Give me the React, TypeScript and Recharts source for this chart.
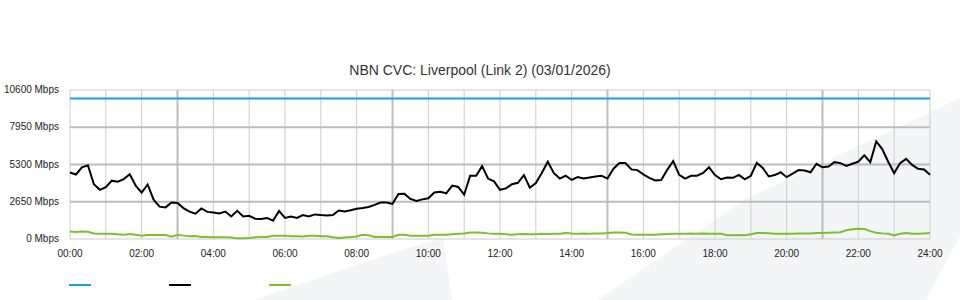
import { LineChart, Line, XAxis, YAxis, CartesianGrid } from 'recharts'

// 10-minute samples, 00:00 .. 24:00
const minutes = Array.from({ length: 145 }, (_, i) => i * 10)

const capacity = 10000

const download = [
  4730, 4590, 5100, 5250, 3900, 3500, 3690, 4150, 4080, 4260, 4600, 3800,
  3300, 3880, 2800, 2300, 2250, 2600, 2560, 2200, 1950, 1800, 2170, 1930,
  1890, 1820, 1950, 1600, 2000, 1605, 1655, 1440, 1430, 1500, 1300, 2000,
  1500, 1600, 1500, 1700, 1600, 1750, 1700, 1680, 1700, 2030, 1950, 2050,
  2150, 2200, 2280, 2430, 2600, 2600, 2500, 3200, 3210, 2850, 2700, 2820,
  2900, 3310, 3360, 3250, 3800, 3700, 3150, 4500, 4494, 5180, 4300, 4100,
  3500, 3600, 3900, 4000, 4550, 3650, 3976, 4700, 5500, 4700, 4300, 4500,
  4200, 4400, 4300, 4380, 4440, 4500, 4300, 5000, 5400, 5400, 4950, 4900,
  4600, 4350, 4160, 4200, 4920, 5550, 4565, 4300, 4494, 4500, 4700, 5100,
  4550, 4250, 4370, 4350, 4565, 4250, 4500, 5420, 5060, 4450, 4550, 4750,
  4400, 4650, 4900, 4870, 4750, 5350, 5100, 5150, 5467, 5400, 5200, 5350,
  5500, 5950, 5460, 6950, 6400, 5500, 4686, 5400, 5700, 5275, 5000, 4950,
  4565,
]

const upload = [
  540, 500, 540, 520, 390, 380, 370, 380, 330, 300, 350, 300,
  240, 280, 290, 290, 280, 170, 300, 240, 200, 220, 140, 140,
  120, 130, 120, 110, 45, 60, 70, 130, 140, 140, 230, 230,
  230, 200, 190, 185, 230, 230, 190, 200, 120, 70, 110, 140,
  180, 300, 260, 150, 140, 140, 150, 300, 300, 240, 234, 234,
  234, 300, 310, 310, 340, 370, 390, 460, 470, 440, 400, 380,
  370, 330, 310, 330, 350, 330, 330, 370, 350, 380, 380, 420,
  390, 380, 390, 380, 400, 390, 420, 470, 460, 440, 320, 300,
  305, 300, 305, 330, 360, 380, 380, 380, 385, 380, 385, 376,
  376, 370, 270, 260, 280, 270, 330, 420, 420, 410, 380, 376,
  376, 380, 390, 390, 400, 425, 430, 450, 470, 480, 620, 690,
  730, 720, 560, 440, 400, 376, 260, 380, 420, 380, 380, 400,
  425,
]

const yTicks = [0, 2650, 5300, 7950, 10600]
const xTicks = [0, 120, 240, 360, 480, 600, 720, 840, 960, 1080, 1200, 1320, 1440]
const hourLines = [0, 60, 120, 180, 240, 300, 360, 420, 480, 540, 600, 660, 720, 780, 840, 900, 960, 1020, 1080, 1140, 1200, 1260, 1320, 1380, 1440]
const majorHourLines = [180, 540, 900, 1260]

const colors = { capacity: '#1b9fe0', download: '#000000', upload: '#7fbf2c' }

const data = minutes.map((m, i) => ({ m, capacity, download: download[i], upload: upload[i] }))

const fmtTime = (m: number) => `${String(Math.floor(m / 60)).padStart(2, '0')}:00`
const font = '"Liberation Sans", Arial, sans-serif'

const YTick = (props: any) => {
  const { x, y, payload } = props
  return (
    <text x={x} y={y} dy="0.32em" textAnchor="end" fontSize={10} fill="#222" fontFamily={font}>
      {`${payload.value} Mbps`}
    </text>
  )
}

export default function App() {
  return (
    <div style={{ position: 'absolute', left: 0, top: 0, width: 960, height: 300, background: '#fff', overflow: 'hidden', fontFamily: font }}>
      <svg width={960} height={300} style={{ position: 'absolute', left: 0, top: 0 }}>
        <path d="M254,300 C300,285 380,255 443,238 L452,300 Z" fill="#f4f5f7" />
        <path d="M598,300 L744,200 L960,98 L960,236 L926,300 Z" fill="#f4f5f7" />
      </svg>
      <div style={{ position: 'absolute', left: 0, top: 62, width: 960, textAlign: 'center', fontSize: 14, color: '#333' }}>
        NBN CVC: Liverpool (Link 2) (03/01/2026)
      </div>
      <div style={{ position: 'absolute', left: 0, top: 0 }}>
        <LineChart width={960} height={300} data={data} margin={{ top: 90, right: 30, left: 0, bottom: 0 }}>
          <CartesianGrid horizontalValues={[0, 10600]} verticalValues={hourLines} stroke="#cccccc" strokeWidth={1} />
          <CartesianGrid horizontalValues={[2650, 5300, 7950]} verticalValues={majorHourLines} stroke="#bcbcbc" strokeWidth={2} />
          <XAxis
            dataKey="m"
            type="number"
            domain={[0, 1440]}
            ticks={xTicks}
            tickFormatter={fmtTime}
            axisLine={false}
            tickLine={false}
            tickMargin={5}
            height={61}
            tick={{ fontSize: 10, fill: '#222', fontFamily: font }}
            interval={0}
          />
          <YAxis
            domain={[0, 10600]}
            ticks={yTicks}
            axisLine={false}
            tickLine={false}
            tickMargin={5}
            width={70}
            tick={<YTick />}
            interval={0}
          />
          <Line dataKey="capacity" stroke={colors.capacity} strokeWidth={2} dot={false} isAnimationActive={false} />
          <Line dataKey="upload" stroke={colors.upload} strokeWidth={2} dot={false} isAnimationActive={false} />
          <Line dataKey="download" stroke={colors.download} strokeWidth={2} dot={false} isAnimationActive={false} />
        </LineChart>
      </div>
      {[colors.capacity, colors.download, colors.upload].map((c, i) => (
        <div key={c} style={{ position: 'absolute', left: 69 + i * 100, top: 284, width: 22, height: 2, background: c }} />
      ))}
    </div>
  )
}
